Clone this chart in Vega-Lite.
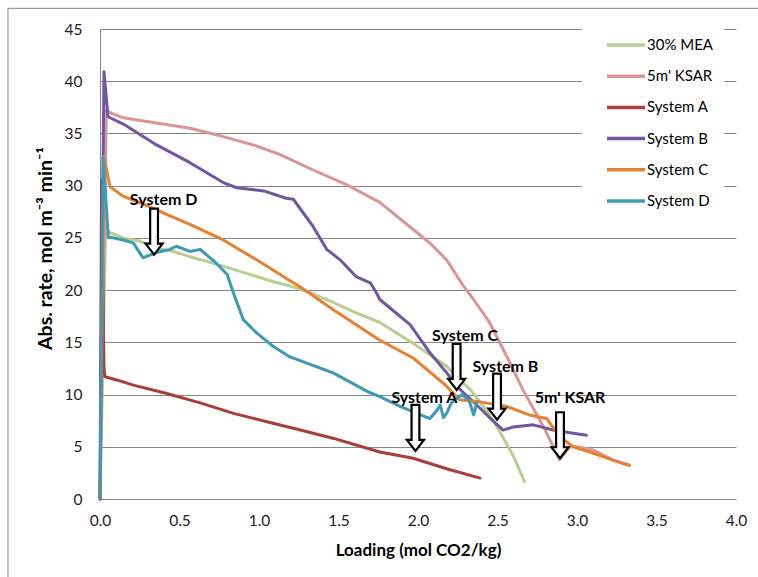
{
  "$schema": "https://vega.github.io/schema/vega-lite/v6.json",
  "width": 636,
  "height": 470,
  "autosize": {"type": "none"},
  "padding": {"left": 100, "top": 29, "right": 22, "bottom": 78},
  "background": "white",
  "config": {
    "view": {"stroke": null},
    "font": "Lato",
    "axis": {"labelFont": "Lato", "titleFont": "Lato", "labelColor": "#222", "titleColor": "#000", "domainColor": "#868686", "gridColor": "#868686", "ticks": false, "labelFlush": false}
  },
  "datasets": {
    "curves": [
      {"s": "30% MEA", "x": 0, "y": 0}, {"s": "30% MEA", "x": 0.035, "y": 26.0}, {"s": "30% MEA", "x": 0.063, "y": 25.5}, {"s": "30% MEA", "x": 0.146, "y": 25.0}, {"s": "30% MEA", "x": 0.25, "y": 24.7}, {"s": "30% MEA", "x": 0.356, "y": 24.0}, {"s": "30% MEA", "x": 0.46, "y": 23.7}, {"s": "30% MEA", "x": 0.566, "y": 23.2}, {"s": "30% MEA", "x": 0.67, "y": 22.75}, {"s": "30% MEA", "x": 0.775, "y": 22.3}, {"s": "30% MEA", "x": 0.88, "y": 21.8}, {"s": "30% MEA", "x": 0.985, "y": 21.3}, {"s": "30% MEA", "x": 1.09, "y": 20.8}, {"s": "30% MEA", "x": 1.195, "y": 20.4}, {"s": "30% MEA", "x": 1.33, "y": 19.7}, {"s": "30% MEA", "x": 1.47, "y": 18.8}, {"s": "30% MEA", "x": 1.6, "y": 17.9}, {"s": "30% MEA", "x": 1.76, "y": 16.9}, {"s": "30% MEA", "x": 1.97, "y": 14.9}, {"s": "30% MEA", "x": 2.18, "y": 12.7}, {"s": "30% MEA", "x": 2.33, "y": 10.45}, {"s": "30% MEA", "x": 2.43, "y": 8.5}, {"s": "30% MEA", "x": 2.52, "y": 6.3}, {"s": "30% MEA", "x": 2.6, "y": 4.1}, {"s": "30% MEA", "x": 2.67, "y": 1.66},
      {"s": "5m' KSAR", "x": 0, "y": 0}, {"s": "5m' KSAR", "x": 0.04, "y": 37.2}, {"s": "5m' KSAR", "x": 0.063, "y": 37.0}, {"s": "5m' KSAR", "x": 0.146, "y": 36.5}, {"s": "5m' KSAR", "x": 0.356, "y": 36.0}, {"s": "5m' KSAR", "x": 0.566, "y": 35.5}, {"s": "5m' KSAR", "x": 0.775, "y": 34.7}, {"s": "5m' KSAR", "x": 0.985, "y": 33.8}, {"s": "5m' KSAR", "x": 1.13, "y": 33.0}, {"s": "5m' KSAR", "x": 1.34, "y": 31.5}, {"s": "5m' KSAR", "x": 1.55, "y": 30.1}, {"s": "5m' KSAR", "x": 1.76, "y": 28.4}, {"s": "5m' KSAR", "x": 1.97, "y": 25.8}, {"s": "5m' KSAR", "x": 2.075, "y": 24.5}, {"s": "5m' KSAR", "x": 2.18, "y": 22.9}, {"s": "5m' KSAR", "x": 2.285, "y": 20.4}, {"s": "5m' KSAR", "x": 2.35, "y": 19.1}, {"s": "5m' KSAR", "x": 2.45, "y": 16.9}, {"s": "5m' KSAR", "x": 2.56, "y": 13.6}, {"s": "5m' KSAR", "x": 2.66, "y": 10.45}, {"s": "5m' KSAR", "x": 2.79, "y": 6.9}, {"s": "5m' KSAR", "x": 2.89, "y": 3.75}, {"s": "5m' KSAR", "x": 2.955, "y": 5.0}, {"s": "5m' KSAR", "x": 3.0, "y": 5.0}, {"s": "5m' KSAR", "x": 3.1, "y": 4.7}, {"s": "5m' KSAR", "x": 3.23, "y": 3.7}, {"s": "5m' KSAR", "x": 3.33, "y": 3.26},
      {"s": "System A", "x": 0, "y": 0}, {"s": "System A", "x": 0.01, "y": 30.5}, {"s": "System A", "x": 0.025, "y": 12.5}, {"s": "System A", "x": 0.031, "y": 11.7}, {"s": "System A", "x": 0.105, "y": 11.4}, {"s": "System A", "x": 0.21, "y": 10.9}, {"s": "System A", "x": 0.42, "y": 10.1}, {"s": "System A", "x": 0.63, "y": 9.2}, {"s": "System A", "x": 0.84, "y": 8.2}, {"s": "System A", "x": 1.05, "y": 7.4}, {"s": "System A", "x": 1.26, "y": 6.6}, {"s": "System A", "x": 1.47, "y": 5.8}, {"s": "System A", "x": 1.68, "y": 4.86}, {"s": "System A", "x": 1.76, "y": 4.5}, {"s": "System A", "x": 1.97, "y": 3.9}, {"s": "System A", "x": 2.18, "y": 2.9}, {"s": "System A", "x": 2.39, "y": 2.0},
      {"s": "System B", "x": 0, "y": 0}, {"s": "System B", "x": 0.025, "y": 40.9}, {"s": "System B", "x": 0.05, "y": 36.6}, {"s": "System B", "x": 0.147, "y": 35.9}, {"s": "System B", "x": 0.356, "y": 33.9}, {"s": "System B", "x": 0.566, "y": 32.2}, {"s": "System B", "x": 0.775, "y": 30.3}, {"s": "System B", "x": 0.86, "y": 29.8}, {"s": "System B", "x": 1.03, "y": 29.5}, {"s": "System B", "x": 1.17, "y": 28.8}, {"s": "System B", "x": 1.216, "y": 28.7}, {"s": "System B", "x": 1.34, "y": 26.1}, {"s": "System B", "x": 1.426, "y": 23.9}, {"s": "System B", "x": 1.51, "y": 22.9}, {"s": "System B", "x": 1.61, "y": 21.3}, {"s": "System B", "x": 1.7, "y": 20.7}, {"s": "System B", "x": 1.74, "y": 19.7}, {"s": "System B", "x": 1.76, "y": 19.1}, {"s": "System B", "x": 1.95, "y": 16.7}, {"s": "System B", "x": 2.075, "y": 14.0}, {"s": "System B", "x": 2.18, "y": 12.1}, {"s": "System B", "x": 2.25, "y": 10.7}, {"s": "System B", "x": 2.37, "y": 9.0}, {"s": "System B", "x": 2.45, "y": 7.8}, {"s": "System B", "x": 2.535, "y": 6.6}, {"s": "System B", "x": 2.6, "y": 6.9}, {"s": "System B", "x": 2.725, "y": 7.1}, {"s": "System B", "x": 2.85, "y": 6.6}, {"s": "System B", "x": 2.975, "y": 6.3}, {"s": "System B", "x": 3.06, "y": 6.1},
      {"s": "System C", "x": 0, "y": 0}, {"s": "System C", "x": 0.025, "y": 32.8}, {"s": "System C", "x": 0.063, "y": 29.9}, {"s": "System C", "x": 0.145, "y": 29.0}, {"s": "System C", "x": 0.31, "y": 28.0}, {"s": "System C", "x": 0.44, "y": 27.1}, {"s": "System C", "x": 0.566, "y": 26.3}, {"s": "System C", "x": 0.775, "y": 24.8}, {"s": "System C", "x": 0.985, "y": 22.9}, {"s": "System C", "x": 1.195, "y": 20.9}, {"s": "System C", "x": 1.26, "y": 20.3}, {"s": "System C", "x": 1.47, "y": 18.1}, {"s": "System C", "x": 1.76, "y": 15.2}, {"s": "System C", "x": 1.97, "y": 13.5}, {"s": "System C", "x": 2.18, "y": 10.8}, {"s": "System C", "x": 2.26, "y": 9.5}, {"s": "System C", "x": 2.39, "y": 9.3}, {"s": "System C", "x": 2.56, "y": 8.85}, {"s": "System C", "x": 2.7, "y": 8.05}, {"s": "System C", "x": 2.81, "y": 7.7}, {"s": "System C", "x": 2.89, "y": 6.0}, {"s": "System C", "x": 2.975, "y": 5.0}, {"s": "System C", "x": 3.1, "y": 4.4}, {"s": "System C", "x": 3.23, "y": 3.7}, {"s": "System C", "x": 3.33, "y": 3.2},
      {"s": "System D", "x": 0, "y": 0}, {"s": "System D", "x": 0.02, "y": 32.7}, {"s": "System D", "x": 0.052, "y": 25.1}, {"s": "System D", "x": 0.147, "y": 24.8}, {"s": "System D", "x": 0.21, "y": 24.5}, {"s": "System D", "x": 0.27, "y": 23.1}, {"s": "System D", "x": 0.356, "y": 23.6}, {"s": "System D", "x": 0.44, "y": 23.9}, {"s": "System D", "x": 0.48, "y": 24.2}, {"s": "System D", "x": 0.566, "y": 23.7}, {"s": "System D", "x": 0.63, "y": 23.9}, {"s": "System D", "x": 0.73, "y": 22.6}, {"s": "System D", "x": 0.8, "y": 21.5}, {"s": "System D", "x": 0.84, "y": 19.7}, {"s": "System D", "x": 0.9, "y": 17.2}, {"s": "System D", "x": 0.985, "y": 15.9}, {"s": "System D", "x": 1.09, "y": 14.6}, {"s": "System D", "x": 1.195, "y": 13.6}, {"s": "System D", "x": 1.47, "y": 12.05}, {"s": "System D", "x": 1.68, "y": 10.3}, {"s": "System D", "x": 1.76, "y": 9.8}, {"s": "System D", "x": 1.89, "y": 8.85}, {"s": "System D", "x": 2.075, "y": 7.7}, {"s": "System D", "x": 2.12, "y": 8.5}, {"s": "System D", "x": 2.14, "y": 9.0}, {"s": "System D", "x": 2.16, "y": 7.8}, {"s": "System D", "x": 2.18, "y": 8.2}, {"s": "System D", "x": 2.21, "y": 9.2}, {"s": "System D", "x": 2.275, "y": 10.0}, {"s": "System D", "x": 2.32, "y": 9.5}, {"s": "System D", "x": 2.35, "y": 8.05}, {"s": "System D", "x": 2.37, "y": 9.2}
    ],
    "notes": [
      {"label": "System D", "lx": 0.40, "ly": 28.6, "ax": 0.34, "ay": 23.4},
      {"label": "System C", "lx": 2.296, "ly": 15.56, "ax": 2.243, "ay": 10.45},
      {"label": "System B", "lx": 2.55, "ly": 12.6, "ax": 2.497, "ay": 7.6},
      {"label": "System A", "lx": 2.04, "ly": 9.7, "ax": 1.984, "ay": 4.6},
      {"label": "5m' KSAR", "lx": 2.956, "ly": 9.7, "ax": 2.893, "ay": 3.9}
    ]
  },
  "layer": [
    {
      "data": {"values": [{}]},
      "mark": {"type": "rect", "fill": null, "stroke": "#868686", "strokeWidth": 1},
      "encoding": {
        "x": {"datum": -0.579, "type": "quantitative", "scale": {"domain": [0, 4], "nice": false, "zero": false}},
        "x2": {"datum": 4.4},
        "y": {"datum": 46.98, "type": "quantitative", "scale": {"domain": [0, 45], "nice": false}},
        "y2": {"datum": -12}
      }
    },
    {
      "data": {"name": "curves"},
      "mark": {"type": "line", "strokeWidth": 3, "strokeJoin": "round", "strokeCap": "round"},
      "encoding": {
        "x": {"field": "x", "type": "quantitative", "scale": {"domain": [0, 4], "nice": false, "zero": false},
          "axis": {"values": [0, 0.5, 1, 1.5, 2, 2.5, 3, 3.5, 4], "format": ".1f", "grid": false, "labelFontSize": 15.5, "labelPadding": 14, "title": "Loading (mol CO2/kg)", "titleFontSize": 17, "titleFontWeight": "bold", "titleBaseline": "middle", "titleY": 51}},
        "y": {"field": "y", "type": "quantitative", "scale": {"domain": [0, 45], "nice": false},
          "axis": {"values": [0, 5, 10, 15, 20, 25, 30, 35, 40, 45], "grid": true, "labelFontSize": 15.5, "labelPadding": 18, "title": "Abs. rate, mol m⁻³ min⁻¹", "titleFontSize": 19.5, "titleFontWeight": "bold", "titleBaseline": "middle", "titleAlign": "center", "titleAngle": -90, "titleX": -55, "titleY": 219}},
        "color": {"field": "s", "type": "nominal",
          "scale": {"domain": ["30% MEA", "5m' KSAR", "System A", "System B", "System C", "System D"], "range": ["#B7CF8F", "#D99694", "#AA3D3A", "#7156A0", "#E8812F", "#3B9BB6"]},
          "legend": {"title": null, "orient": "none", "legendX": 482, "legendY": -15, "padding": 10, "fillColor": "white", "symbolType": "stroke", "symbolSize": 1444, "symbolStrokeWidth": 3.5, "symbolOffset": 13, "labelFont": "Lato", "labelFontSize": 15, "labelColor": "#000", "labelOffset": 0, "rowPadding": 2.2}}
      }
    },
    {
      "data": {"name": "notes"},
      "mark": {"type": "point", "shape": "M -0.17 -2 L 0.17 -2 L 0.17 -0.48 L 0.37 -0.48 L 0 0 L -0.37 -0.48 L -0.17 -0.48 Z", "size": 2116, "filled": true, "fill": "white", "stroke": "black", "strokeWidth": 2.2, "opacity": 1},
      "encoding": {
        "x": {"field": "ax", "type": "quantitative"},
        "y": {"field": "ay", "type": "quantitative"}
      }
    },
    {
      "data": {"name": "notes"},
      "mark": {"type": "text", "fontWeight": "bold", "fontSize": 16, "font": "Lato", "color": "#000", "align": "center", "baseline": "middle"},
      "encoding": {
        "x": {"field": "lx", "type": "quantitative"},
        "y": {"field": "ly", "type": "quantitative"},
        "text": {"field": "label"}
      }
    }
  ]
}
